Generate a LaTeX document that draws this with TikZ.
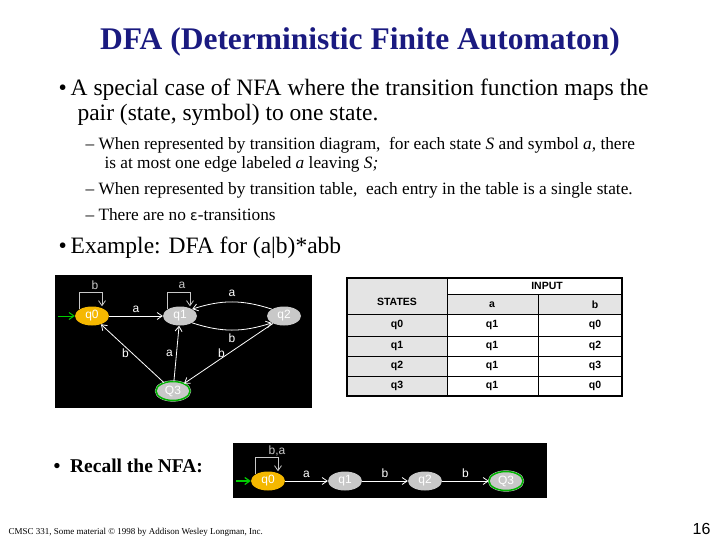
\documentclass[tikz,border=0pt]{standalone}
\usepackage{fontspec}
\setmainfont{Liberation Serif}
\newfontfamily\arialf{Liberation Sans}
\newfontfamily\dejav{DejaVu Sans}
\usetikzlibrary{arrows.meta,shapes.geometric}
\definecolor{ttl}{HTML}{1A1A80}
\definecolor{stg}{HTML}{C8C8C8}
\definecolor{sty}{HTML}{F5B800}
\definecolor{cellg}{HTML}{E4E4E4}
\begin{document}
\begin{tikzpicture}[x=1pt,y=-1pt,
  st/.style={ellipse,fill=stg,minimum width=34pt,minimum height=19pt,inner sep=0pt,font=\arialf\fontsize{12}{12}\selectfont,text=white},
  stacc/.style={st,double=green!70!black,draw=stg,double distance=1.5pt},
  tr/.style={white,-{Straight Barb[length=5pt,width=7pt]},line width=0.8pt},
  lb/.style={font=\arialf\fontsize{12}{12}\selectfont,text=white},
  cell/.style={font=\arialf\bfseries\fontsize{10.5}{10.5}\selectfont},
  bt/.style={anchor=base west,font=\fontsize{23.5}{26}\selectfont},
  sb/.style={anchor=base west,font=\fontsize{17.3}{19}\selectfont}]
\useasboundingbox (0,0) rectangle (720,540);
\fill[white] (0,0) rectangle (720,540);
\node[font=\bfseries\fontsize{31.5}{34}\selectfont,text=ttl] (title) at (360,42) {DFA (Deterministic Finite Automaton)};
\node[bt] (b1) at (55,96) {•\,A special case of NFA where the transition function maps the};
\node[bt] (b1b) at (74,121) {pair (state, symbol) to one state.};
\node[sb] (s1) at (82,150) {– When represented by transition diagram,\ \ for each state \textit{S} and symbol \textit{a,} there};
\node[sb] (s1b) at (101,169) {is at most one edge labeled \textit{a} leaving \textit{S;}};
\node[sb] (s2) at (82,195) {– When represented by transition table,\ \ each entry in the table is a single state.};
\node[sb] (s3) at (82,221) {– There are no {\dejav\fontsize{14}{14}\selectfont ε}-transitions};
\node[bt] (b2) at (55,254) {•\,Example: DFA for (a|b)*abb};
% panel 1
\fill[black] (55,275) rectangle (312,408);
\node[st,fill=sty] (q0) at (92,316) {q0};
\node[st] (q1) at (180,316) {q1};
\node[st] (q2) at (284,316) {q2};
\node[stacc] (q3) at (173,391) {Q3};
\draw[green!80!black,-{Straight Barb[length=5pt,width=7pt]},line width=1pt] (58,316) -- (q0);
\draw[tr] (q0) -- node[lb,above]{a} (q1);
\draw[tr] (q1.south east) to[bend right=18] node[lb,below]{b} (q2.south west);
\draw[tr] (q2.north west) to[bend right=18] node[lb,above=2pt]{a} (q1.north east);
\draw[tr] (q3) -- node[lb,left]{b} (q0);
\draw[tr] (q3) -- node[lb,left]{a} (q1);
\draw[tr] (q2) -- node[lb,left]{b} (q3);
\draw[stg,line width=0.8pt,-{Straight Barb[length=5pt,width=7pt]}] (q0.north west) |- ++(8,-17) -| ([xshift=10pt]q0.north);
\node[lb,stg] (lb0) at (95,285) {b};
\draw[stg,line width=0.8pt,-{Straight Barb[length=5pt,width=7pt]}] (q1.north west) |- ++(8,-17) -| ([xshift=10pt]q1.north);
\node[lb,stg] (lb1) at (182,285) {a};
% table
\fill[cellg] (347,278) rectangle (447,396);
\fill[cellg] (447,294) rectangle (622,314);
\draw[line width=1.2pt] (347,278) rectangle (622,396);
\draw[line width=0.8pt] (447,278) -- (447,396) (447,294) -- (622,294) (538,294) -- (538,396);
\foreach \y in {314,336,356,376} \draw[line width=0.8pt] (347,\y) -- (622,\y);
\node[cell] (hin) at (547,286) {INPUT};
\node[cell] (hst) at (397,302) {STATES};
\node[cell] (ha) at (492,305) {a};
\node[cell] (hb) at (595,305) {b};
\foreach \r/\y/\a/\b in {q0/325/q1/q0,q1/346/q1/q2,q2/366/q1/q3,q3/386/q1/q0}{
  \node[cell] at (397,\y) {\r};
  \node[cell] at (492,\y) {\a};
  \node[cell] at (595,\y) {\b};
}
% recall
\node[anchor=base west,font=\bfseries\fontsize{19.5}{22}\selectfont] (rec) at (50,472) {•\ \ Recall the NFA:};
\fill[black] (233,443) rectangle (547,498);
\node[st,fill=sty] (n0) at (268,481) {q0};
\node[st] (n1) at (345,481) {q1};
\node[st] (n2) at (425,481) {q2};
\node[stacc] (n3) at (506,481) {Q3};
\draw[green!80!black,-{Straight Barb[length=5pt,width=7pt]},line width=1.2pt] (236,481) -- (n0);
\draw[tr] (n0) -- node[lb,above]{a} (n1);
\draw[tr] (n1) -- node[lb,above]{b} (n2);
\draw[tr] (n2) -- node[lb,above]{b} (n3);
\draw[stg,line width=0.8pt,-{Straight Barb[length=5pt,width=7pt]}] (n0.north west) |- ++(8,-17) -| ([xshift=10pt]n0.north);
\node[lb,stg] (lbn) at (277,451) {b,a};
\node[anchor=base west,font=\fontsize{9}{10}\selectfont] (foot) at (5,534) {CMSC 331, Some material © 1998 by Addison Wesley Longman, Inc.};
\node[anchor=base east,font=\arialf\fontsize{16}{16}\selectfont] (pg) at (714,534) {16};
\end{tikzpicture}
\end{document}
